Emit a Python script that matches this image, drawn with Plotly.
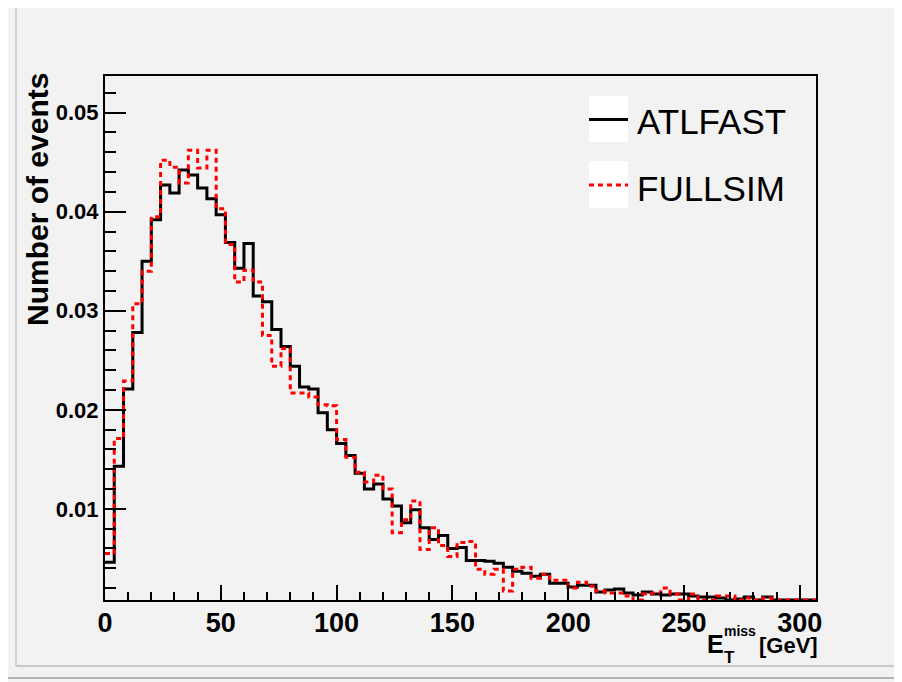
import plotly.graph_objects as go

# ---------------- data ----------------
bin_width_gev = 4
bin_edges = [i * bin_width_gev for i in range(78)]  # 0 .. 308 GeV, 77 bins

atlfast = [
    0.0046, 0.0143, 0.0221, 0.0278, 0.0350, 0.0392, 0.0427, 0.0419, 0.0442, 0.0437,
    0.0424, 0.0413, 0.0397, 0.0369, 0.0343, 0.0368, 0.0315, 0.0309, 0.0281, 0.0264,
    0.0244, 0.0223, 0.0221, 0.0197, 0.0180, 0.0166, 0.0154, 0.0136, 0.0120, 0.0125,
    0.0110, 0.0103, 0.0086, 0.0099, 0.0081, 0.0069, 0.0073, 0.0060, 0.0061, 0.0048,
    0.0048, 0.0047, 0.0045, 0.0041, 0.0037, 0.0035, 0.0032, 0.0034, 0.0025, 0.0025,
    0.0021, 0.0023, 0.0023, 0.0016, 0.0018, 0.0019, 0.0015, 0.0013, 0.0016, 0.0014,
    0.0013, 0.0014, 0.0014, 0.0012, 0.0011, 0.0011, 0.0010, 0.0008, 0.0009, 0.0011,
    0.0008, 0.0011, 0.0008, 0.0008, 0.0008, 0.0008, 0.0008,
]

fullsim = [
    0.0055, 0.0171, 0.0229, 0.0307, 0.0340, 0.0395, 0.0452, 0.0445, 0.0429, 0.0462,
    0.0444, 0.0462, 0.0403, 0.0367, 0.0329, 0.0341, 0.0329, 0.0275, 0.0244, 0.0262,
    0.0217, 0.0217, 0.0213, 0.0205, 0.0204, 0.0170, 0.0152, 0.0137, 0.0127, 0.0134,
    0.0120, 0.0076, 0.0089, 0.0108, 0.0059, 0.0081, 0.0063, 0.0052, 0.0066, 0.0067,
    0.0039, 0.0034, 0.0039, 0.0017, 0.0039, 0.0041, 0.0030, 0.0034, 0.0028, 0.0028,
    0.0020, 0.0026, 0.0022, 0.0017, 0.0015, 0.0015, 0.0012, 0.0008, 0.0014, 0.0015,
    0.0020, 0.0014, 0.0008, 0.0014, 0.0008, 0.0008, 0.0012, 0.0012, 0.0008, 0.0010,
    0.0008, 0.0010, 0.0008, 0.0008, 0.0008, 0.0008, 0.0008,
]

series_names = ["ATLFAST", "FULLSIM"]
x_range = [0, 307]
y_range = [0.0008, 0.0537]
x_tick_values = [0, 50, 100, 150, 200, 250, 300]
y_tick_values = [0.01, 0.02, 0.03, 0.04, 0.05]

# ---------------- layout geometry ----------------
W, H = 902, 682
OFF = 8  # page body margin: figure starts 8 px from the window corner
# plot area in window pixels: left 104.7, right 816, top 75.5, bottom 600
L = 97
T = 68
R = W - (816 - OFF)
B = H - (600 - OFF)
PW, PH = W - L - R, H - T - B
FONT = "Liberation Sans, Arial, Helvetica, sans-serif"
BG = "#f2f2f2"


def px(xs):
    """window x pixel -> paper x"""
    return (xs - OFF - L) / PW


def py(ys):
    """window y pixel -> paper y"""
    return (H - B - (ys - OFF)) / PH


fig = go.Figure()

fig.add_trace(go.Scatter(
    x=bin_edges, y=atlfast + [atlfast[-1]], mode="lines", line_shape="hv",
    line=dict(color="black", width=3), name=series_names[0], showlegend=False,
))
fig.add_trace(go.Scatter(
    x=bin_edges, y=fullsim + [fullsim[-1]], mode="lines", line_shape="hv",
    line=dict(color="#ff0000", width=3, dash="5px,4px"), name=series_names[1], showlegend=False,
))

shapes = [
    # canvas bevel lines
    dict(type="line", xref="paper", yref="paper", x0=px(16), x1=px(16), y0=py(0), y1=py(666),
         line=dict(color="#d2d2d2", width=2)),
    dict(type="line", xref="paper", yref="paper", x0=px(16), x1=px(W + 20), y0=py(666), y1=py(666),
         line=dict(color="#c8c8c8", width=2)),
    dict(type="line", xref="paper", yref="paper", x0=px(0), x1=px(W + 20), y0=py(678), y1=py(678),
         line=dict(color="#b4b4b4", width=2)),
    # legend boxes
    dict(type="rect", xref="paper", yref="paper", x0=px(589), x1=px(628), y0=py(96), y1=py(142),
         fillcolor="white", line=dict(width=0)),
    dict(type="rect", xref="paper", yref="paper", x0=px(589), x1=px(628), y0=py(161), y1=py(208),
         fillcolor="white", line=dict(width=0)),
    dict(type="line", xref="paper", yref="paper", x0=px(589), x1=px(628), y0=py(119.5), y1=py(119.5),
         line=dict(color="black", width=3)),
    dict(type="line", xref="paper", yref="paper", x0=px(589), x1=px(628), y0=py(185), y1=py(185),
         line=dict(color="#ff0000", width=3, dash="5px,4px")),
]

annotations = [
    dict(text=series_names[0], xref="paper", yref="paper", x=px(635), y=py(122),
         xanchor="left", yanchor="middle", showarrow=False,
         font=dict(family=FONT, size=35, color="black")),
    dict(text=series_names[1], xref="paper", yref="paper", x=px(635), y=py(188),
         xanchor="left", yanchor="middle", showarrow=False,
         font=dict(family=FONT, size=35, color="black")),
    dict(text="Number of events", xref="paper", yref="paper", x=px(38), y=py(200),
         xanchor="center", yanchor="middle", textangle=-90, showarrow=False,
         font=dict(family=FONT, size=30, color="black", weight="bold")),
    dict(text="E", xref="paper", yref="paper", x=px(705), y=py(644),
         xanchor="left", yanchor="middle", showarrow=False,
         font=dict(family=FONT, size=25, color="black", weight="bold")),
    dict(text="miss", xref="paper", yref="paper", x=px(722), y=py(641),
         xanchor="left", yanchor="bottom", showarrow=False,
         font=dict(family=FONT, size=14, color="black", weight="bold")),
    dict(text="T", xref="paper", yref="paper", x=px(722), y=py(646),
         xanchor="left", yanchor="top", showarrow=False,
         font=dict(family=FONT, size=17, color="black", weight="bold")),
    dict(text="[GeV]", xref="paper", yref="paper", x=px(757), y=py(645),
         xanchor="left", yanchor="middle", showarrow=False,
         font=dict(family=FONT, size=22, color="black", weight="bold")),
]

fig.update_layout(
    width=W, height=H,
    margin=dict(l=L, r=R, t=T, b=B, pad=0),
    paper_bgcolor=BG, plot_bgcolor=BG,
    showlegend=False,
    shapes=shapes, annotations=annotations,
    font=dict(family=FONT, color="black"),
)

fig.update_xaxes(
    range=x_range, showgrid=False, zeroline=False,
    showline=True, linecolor="black", linewidth=2, mirror=True,
    ticks="inside", ticklen=15, tickwidth=1.5, tickcolor="black",
    tickvals=x_tick_values, ticktext=[str(v) for v in x_tick_values],
    ticklabelstandoff=-2,
    minor=dict(ticks="inside", ticklen=8, dtick=10, tick0=0, tickwidth=1.5, tickcolor="black"),
    tickfont=dict(family=FONT, size=27, color="black", weight="bold"),
)
fig.update_yaxes(
    range=y_range, showgrid=False, zeroline=False,
    showline=True, linecolor="black", linewidth=2, mirror=True,
    ticks="inside", ticklen=21, tickwidth=1.5, tickcolor="black",
    tickvals=y_tick_values, ticktext=[f"{v:.2f}" for v in y_tick_values],
    minor=dict(ticks="inside", ticklen=11, dtick=0.002, tick0=0, tickwidth=1.5, tickcolor="black"),
    tickfont=dict(family=FONT, size=22, color="black", weight="bold"),
)

fig.write_html("out.html")
